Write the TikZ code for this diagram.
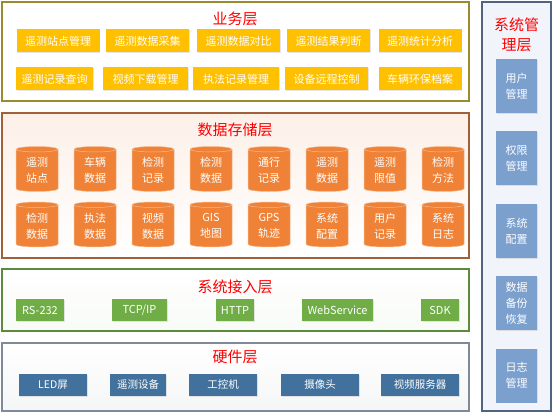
\documentclass[tikz,border=0pt]{standalone}
\usepackage{fontspec}
\setmainfont{Noto Sans CJK SC}
\usetikzlibrary{shapes.geometric, positioning, shadows}
\definecolor{bizline}{HTML}{9C8B2E}
\definecolor{bizfill}{HTML}{FFC000}
\definecolor{dbline}{HTML}{A0603A}
\definecolor{dbfill}{HTML}{EF8236}
\definecolor{dbtop}{HTML}{FDF0E8}
\definecolor{accline}{HTML}{5E8A3E}
\definecolor{accfill}{HTML}{70AD47}
\definecolor{hwline}{HTML}{7F8A99}
\definecolor{hwfill}{HTML}{41719C}
\definecolor{mgrline}{HTML}{4F6480}
\definecolor{mgrfill}{HTML}{7BA0CE}
\definecolor{mgrbg}{HTML}{F1F5FB}
\tikzset{
  layer/.style={draw, line width=1.2pt, minimum width=467pt, inner sep=0pt},
  title/.style={text=red, font=\fontsize{15pt}{18pt}\selectfont, inner sep=0pt},
  box/.style={text=white, font=\fontsize{11pt}{13pt}\selectfont, inner sep=0pt,
    drop shadow={shadow xshift=0.8pt, shadow yshift=-0.8pt, opacity=0.2}},
  func/.style={box, fill=bizfill, minimum width=83pt, minimum height=23pt},
  db/.style={cylinder, shape border rotate=90, aspect=0.25, draw=dbfill!55!white,
    line width=0.5pt, fill=dbfill, text=white, align=center,
    font=\fontsize{11pt}{16pt}\selectfont, minimum width=42pt, minimum height=45pt, inner sep=0pt},
  iface/.style={box, fill=accfill, minimum height=22pt},
  dev/.style={box, fill=hwfill, minimum height=22pt, font=\fontsize{10.5pt}{13pt}\selectfont},
  mgr/.style={box, fill=mgrfill, minimum width=41pt, minimum height=54pt, align=center,
    font=\fontsize{11pt}{16pt}\selectfont}
}
\begin{document}
\begin{tikzpicture}[x=1pt, y=-1pt]
\useasboundingbox (0,0) rectangle (554,414);
\fill[white] (0,0) rectangle (554,414);

\node[layer, draw=bizline, fill=white, minimum height=99pt] (biz) at (235.5,51.5) {};
\node[layer, draw=dbline, top color=dbtop, bottom color=white, minimum height=145pt] (store) at (235.5,185.5) {};
\node[layer, draw=accline, top color=white, bottom color=accfill!5, minimum height=62pt] (access) at (235.5,300) {};
\node[layer, draw=hwline, top color=white, bottom color=hwline!8, minimum height=68pt] (hw) at (235.5,377) {};
\node[draw=mgrline, line width=1.2pt, fill=mgrbg, minimum width=69pt, minimum height=409pt, inner sep=0pt] (mgmt) at (516.5,206.5) {};

\node[title] (tbiz) at (235,19) {业务层};
\node[title] (tstore) at (235,130) {数据存储层};
\node[title] (taccess) at (235,287) {系统接入层};
\node[title] (thw) at (235,357) {硬件层};
\node[title, align=center, font=\fontsize{15pt}{20pt}\selectfont] (tmgmt) at (516.5,35) {系统管\\理层};

\node[func] (f1) at (58,41) {遥测站点管理};
\node[func] (f2) at (147.5,41) {遥测数据采集};
\node[func] (f3) at (238.5,41) {遥测数据对比};
\node[func] (f4) at (328.5,41) {遥测结果判断};
\node[func] (f5) at (420,41) {遥测统计分析};
\node[func, minimum width=77pt] (f6) at (54.5,79) {遥测记录查询};
\node[func, minimum width=85pt] (f7) at (145.5,79) {视频下载管理};
\node[func, minimum width=86pt] (f8) at (236,79) {执法记录管理};
\node[func] (f9) at (326.5,79) {设备远程控制};
\node[func] (f10) at (420,79) {车辆环保档案};

\node[db] (d1) at (37,170.5) {遥测\\站点};
\node[db, right=15.5pt of d1] (d2) {车辆\\数据};
\node[db, right=15.5pt of d2] (d3) {检测\\记录};
\node[db, right=15.5pt of d3] (d4) {检测\\数据};
\node[db, right=15.5pt of d4] (d5) {通行\\记录};
\node[db, right=15.5pt of d5] (d6) {遥测\\数据};
\node[db, right=15.5pt of d6] (d7) {遥测\\限值};
\node[db, right=15.5pt of d7] (d8) {检测\\方法};
\node[db, below=10pt of d1] (d9) {检测\\数据};
\node[db, below=10pt of d2] (d10) {执法\\数据};
\node[db, below=10pt of d3] (d11) {视频\\数据};
\node[db, below=10pt of d4] (d12) {GIS\\地图};
\node[db, below=10pt of d5] (d13) {GPS\\轨迹};
\node[db, below=10pt of d6] (d14) {系统\\配置};
\node[db, below=10pt of d7] (d15) {用户\\记录};
\node[db, below=10pt of d8] (d16) {系统\\日志};

\node[iface, minimum width=48pt] (i1) at (40,310) {RS-232};
\node[iface, minimum width=55pt] (i2) at (139.5,310) {TCP/IP};
\node[iface, minimum width=38pt] (i3) at (235,310) {HTTP};
\node[iface, minimum width=71pt] (i4) at (337.5,310) {WebService};
\node[iface, minimum width=38pt] (i5) at (440,310) {SDK};

\node[dev, minimum width=68pt] (h1) at (53,385) {LED屏};
\node[dev, minimum width=56pt] (h2) at (138,385) {遥测设备};
\node[dev, minimum width=68pt] (h3) at (223,385) {工控机};
\node[dev, minimum width=78pt] (h4) at (320,385) {摄像头};
\node[dev, minimum width=78pt] (h5) at (420,385) {视频服务器};

\node[mgr] (m1) at (516.5,86) {用户\\管理};
\node[mgr, below=18pt of m1] (m2) {权限\\管理};
\node[mgr, below=18pt of m2] (m3) {系统\\配置};
\node[mgr, below=18pt of m3] (m4) {数据\\备份\\恢复};
\node[mgr, below=18pt of m4] (m5) {日志\\管理};
\end{tikzpicture}
\end{document}
